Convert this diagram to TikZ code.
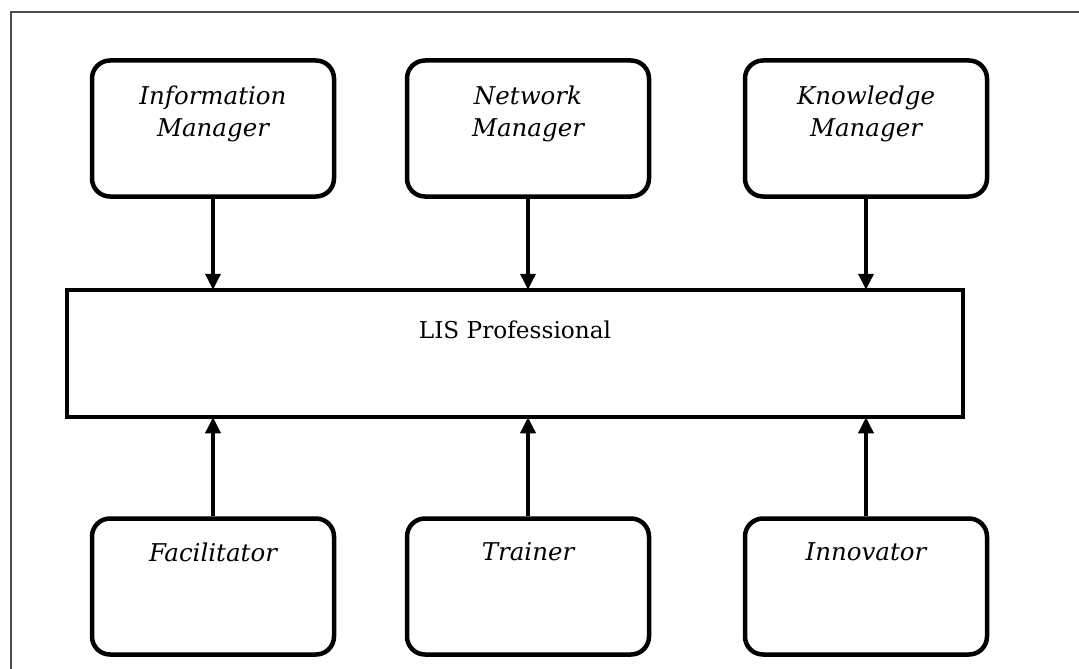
\documentclass[tikz,border=0pt]{standalone}
\usepackage{fontspec}
\setmainfont{DejaVu Serif}
\usetikzlibrary{arrows.meta}
\begin{document}
\begin{tikzpicture}[x=1pt,y=-1pt,
  role/.style={draw, line width=4.5pt, rounded corners=18pt,
    minimum width=242pt, minimum height=136pt, inner sep=0pt},
  hub/.style={draw, line width=4.5pt, minimum width=896pt,
    minimum height=127pt, inner sep=0pt},
  lbl/.style={anchor=north, align=center, inner sep=0pt,
    font=\fontsize{24.5}{32}\selectfont\itshape},
  hublbl/.style={anchor=north, inner sep=0pt,
    font=\fontsize{23.2}{30}\selectfont},
  link/.style={line width=3.5pt, shorten >=-2pt,
    -{Triangle[length=16pt,width=15pt]}}]
\useasboundingbox (0,0) rectangle (1079,669);
% outer frame
\draw[gray!60!black, line width=1.5pt] (11,669) -- (11,12) -- (1079,12);

% upper roles
\node[role] (im) at (213,128.5) {};
\node[role] (nm) at (528,128.5) {};
\node[role] (km) at (866,128.5) {};
\node[lbl] (imt) at ([yshift=-27pt]im.north) {Information\\Manager};
\node[lbl] (nmt) at ([yshift=-27pt]nm.north) {Network\\Manager};
\node[lbl] (kmt) at ([yshift=-27pt]km.north) {Knowledge\\Manager};

% central box
\node[hub] (lis) at (515,353.5) {};
\node[hublbl] (list) at ([yshift=-32.5pt]lis.north) {LIS Professional};

% lower roles
\node[role] (fa) at (213,586.5) {};
\node[role] (tr) at (528,586.5) {};
\node[role] (in) at (866,586.5) {};
\node[lbl] (fat) at ([yshift=-26pt]fa.north) {Facilitator};
\node[lbl] (trt) at ([yshift=-26pt]tr.north) {Trainer};
\node[lbl] (int) at ([yshift=-26pt]in.north) {Innovator};

% connectors
\draw[link] (im.south) -- (im.south |- lis.north);
\draw[link] (nm.south) -- (nm.south |- lis.north);
\draw[link] (km.south) -- (km.south |- lis.north);
\draw[link] (fa.north) -- (fa.north |- lis.south);
\draw[link] (tr.north) -- (tr.north |- lis.south);
\draw[link] (in.north) -- (in.north |- lis.south);
\end{tikzpicture}
\end{document}
